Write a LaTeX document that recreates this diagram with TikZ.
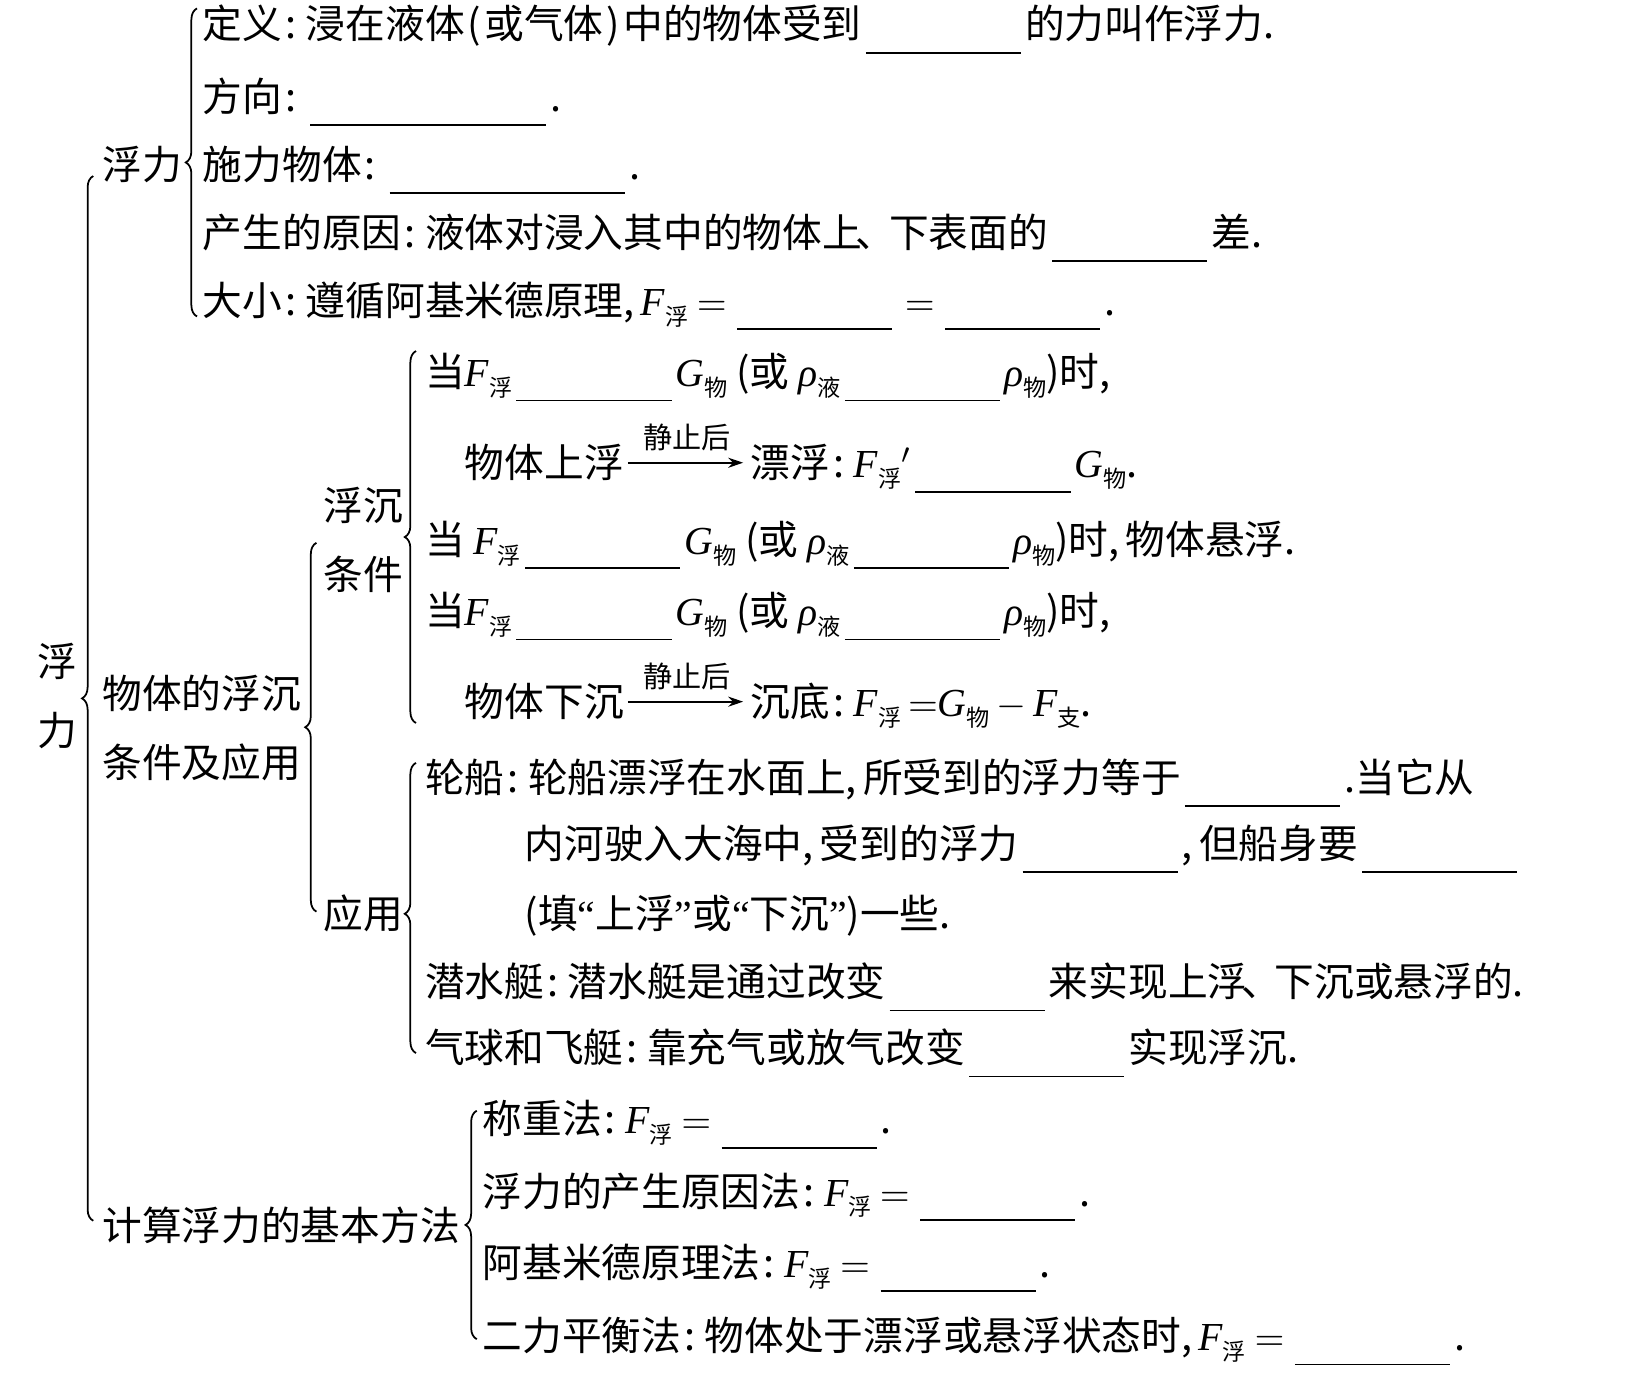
\documentclass[tikz,border=0pt]{standalone}
\usepackage{fontspec}
\setmainfont{Noto Sans CJK SC}
\newfontfamily\lat{Liberation Serif}
\usepackage{tikz}
\usetikzlibrary{arrows.meta,positioning,decorations.pathreplacing}

\newlength\px
\setlength\px{0.1048mm}
\newcommand\mainsize{\fontsize{11.3pt}{19.6pt}\selectfont}
\newcommand\notesize{\fontsize{8.3pt}{9pt}\selectfont}
\newcommand\sbs[1]{\raisebox{-0.45ex}{\fontsize{6.6pt}{7pt}\selectfont #1}}
\newcommand\F[1]{{\lat\itshape F}\sbs{#1}}
\newcommand\G[1]{{\lat\itshape G}\sbs{#1}}
\newcommand\R[1]{{\lat\itshape ρ}\sbs{#1}}
\newcommand\blank[1][148]{\hspace{4\px}\rule[-4.2pt]{#1\px}{0.5pt}\hspace{4\px}}
\newcommand\eq{\hspace{8\px}$=$\hspace{6\px}}
\newcommand\cln{\kern3\px:\kern9\px}
\newcommand\cma{,\kern6\px}
\newcommand\dun{\kern-6\px、\kern-6\px}
\newcommand\oq{{\lat “}}
\newcommand\cq{{\lat ”}}

\begin{document}
\begin{tikzpicture}[x=0.1048mm, y=-0.1048mm,
    every node/.style={inner sep=0pt, font=\mainsize},
    leaf/.style={anchor=base west},
    title/.style={anchor=west, align=left},
    brc/.style={decorate, decoration={brace, amplitude=3.2pt}, line width=0.5pt},
    arrow/.style={-{Stealth[length=1.5mm, width=1mm]}, line width=0.5pt, shorten <=1pt, shorten >=2pt},
    note/.style={font=\notesize, above=3pt}
]
\useasboundingbox (0,0) rectangle (1568,1317);

% titles
\node[align=center] (root) at (55,664) {浮\\力};
\node[leaf] (fuli) at (97,171) {浮力};
\node[title] (sink) at (97,695) {物体的浮沉\\条件及应用};
\node[title] (cond) at (308,515) {浮沉\\条件};
\node[leaf] (app) at (308,886) {应用};
\node[leaf] (calc) at (97,1184) {计算浮力的基本方法};

% buoyancy
\node[leaf] (def) at (193,37) {定义\cln 浸在液体\kern3\px(\kern3\px 或气体\kern3\px)\kern3\px 中的物体受到\blank 的力叫作浮力.};
\node[leaf] (dir) at (193,106) {方向\cln\blank[225].};
\node[leaf] (src) at (193,171) {施力物体\cln\blank[225].};
\node[leaf] (cause) at (193,236) {产生的原因\cln 液体对浸入其中的物体上\dun 下表面的\blank 差.};
\node[leaf] (size) at (193,301) {大小\cln 遵循阿基米德原理\cma\F{浮}\eq\blank\eq\blank.};

% float or sink
\node[leaf] (c1) at (405,369) {当\F{浮}\blank\G{物} (或 \R{液}\blank\R{物})时,};
\node[leaf] (up) at (443,456) {物体上浮};
\node[leaf] (fl) at (716,456) {漂浮\cln\F{浮}${}'$\blank\G{物}.};
\node[leaf] (c2) at (405,529) {当 \F{浮}\blank\G{物} (或 \R{液}\blank\R{物})时\cma 物体悬浮.};
\node[leaf] (c3) at (405,597) {当\F{浮}\blank\G{物} (或 \R{液}\blank\R{物})时,};
\node[leaf] (down) at (443,684) {物体下沉};
\node[leaf] (bot) at (716,684) {沉底\cln\F{浮}\,$=$\G{物}\,$-$\,\F{支}.};

\draw[arrow] (up.east) -- (up.east -| fl.west) node[note, midway] {静止后};
\draw[arrow] (down.east) -- (down.east -| bot.west) node[note, midway] {静止后};

% applications
\node[leaf] (ship1) at (405,756) {轮船\cln 轮船漂浮在水面上\cma 所受到的浮力等于\blank.当它从};
\node[leaf] (ship2) at (500,819) {内河驶入大海中\cma 受到的浮力\blank\cma 但船身要\blank};
\node[leaf] (ship3) at (500,886) {(填\oq 上浮\cq 或\oq 下沉\cq)一些.};
\node[leaf] (subm) at (405,951) {潜水艇\cln 潜水艇是通过改变\blank 来实现上浮\dun 下沉或悬浮的.};
\node[leaf] (ball) at (405,1014) {气球和飞艇\cln 靠充气或放气改变\blank 实现浮沉.};

% methods
\node[leaf] (m1) at (460,1082) {称重法\cln\F{浮}\eq\blank.};
\node[leaf] (m2) at (460,1151) {浮力的产生原因法\cln\F{浮}\eq\blank.};
\node[leaf] (m3) at (460,1219) {阿基米德原理法\cln\F{浮}\eq\blank.};
\node[leaf] (m4) at (460,1289) {二力平衡法\cln 物体处于漂浮或悬浮状态时\cma\F{浮}\eq\blank.};

% braces
\coordinate (rootB) at (89,1165);
\coordinate (rootT) at (89,168);
\coordinate (fuliB) at (188,302);
\coordinate (fuliT) at (188,8);
\coordinate (sinkB) at (302,870);
\coordinate (sinkT) at (302,518);
\coordinate (condB) at (397,690);
\coordinate (condT) at (397,335);
\coordinate (appB) at (397,1005);
\coordinate (appT) at (397,728);
\coordinate (calcB) at (455,1278);
\coordinate (calcT) at (455,1060);

\draw[brc] (rootB) -- (rootT);
\draw[brc] (fuliB) -- (fuliT);
\draw[brc] (sinkB) -- (sinkT);
\draw[brc] (condB) -- (condT);
\draw[brc, decoration={aspect=0.48}] (appB) -- (appT);
\draw[brc] (calcB) -- (calcT);

\end{tikzpicture}
\end{document}
